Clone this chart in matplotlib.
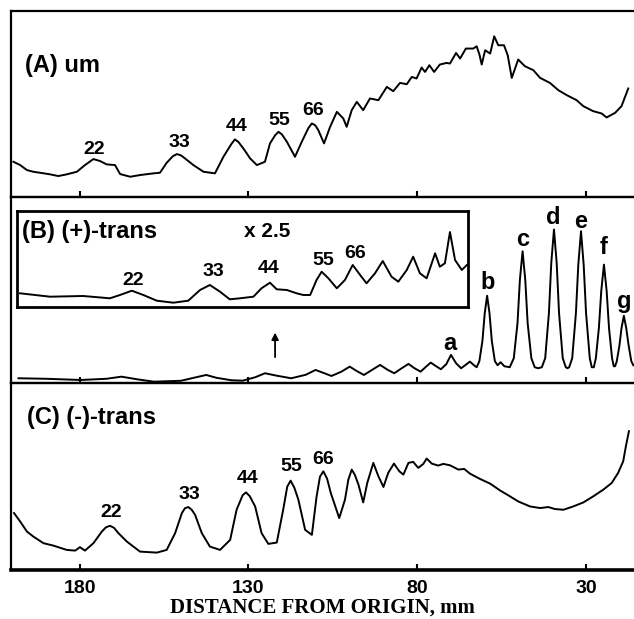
import matplotlib
matplotlib.use("Agg")
import matplotlib.pyplot as plt

plt.rcParams['font.family'] = ['Liberation Sans', 'DejaVu Sans']

# distance from origin (mm) and detector signal (arb. units)
# (A) um
um_mm = [199.6, 197.6, 195.6, 193.7, 191.7, 188.7, 186.3, 183.8, 180.8, 178.4, 175.9, 173.9,
         172.0, 169.5, 168.0, 165.0, 162.1, 158.1, 156.2, 154.2, 152.4, 151.2, 150.0, 148.8,
         146.3, 143.3, 139.9, 137.4, 135.0, 134.0, 133.0, 131.5, 129.5, 127.5, 125.1, 123.6,
         122.1, 121.1, 120.1, 118.6, 116.2, 114.2, 112.2, 111.2, 110.2, 109.3, 107.6, 105.8,
         103.8, 101.9, 100.9, 99.4, 97.9, 96.0, 94.0, 91.5,
         89.0, 87.1, 85.1, 83.1, 81.6, 80.2, 78.7, 77.7, 76.4, 75.0, 73.3, 71.3,
         70.3, 68.5, 67.3, 65.6, 63.4, 62.4, 61.6, 60.9, 59.9, 58.4, 57.2, 56.0,
         54.3, 53.2, 52.0, 50.1, 48.1, 45.6, 43.6, 40.7, 38.2, 35.7, 32.8, 30.8,
         27.9, 25.4, 23.9, 21.4, 19.5, 17.5]
um_sig = [35, 31.7, 26.7, 25, 24, 22.4, 20.7, 22.4, 25, 31.7, 37.7, 35.7,
          32.4, 31.7, 22.7, 20, 21.7, 23.4, 24, 34, 40.5, 42.7, 41.5, 38.4,
          31.7, 25, 23.4, 40, 53, 57.4, 55, 48.4, 38.4, 31.7, 35, 53.4,
          61.5, 65, 62.5, 55, 40, 55, 69, 73.4, 71.5, 66.7, 53.4, 70,
          85, 78.4, 70, 86.7, 95, 86.7, 98.4, 96.7,
          110, 105.7, 114, 112.7, 120, 118.4, 129.4, 125, 131.7, 125, 132.4, 134,
          133.4, 144, 138.4, 148.4, 148.4, 150.7, 142.7, 132.4, 146.7, 143.4, 160.7, 151.7,
          151.7, 141.7, 119, 137.4, 130.7, 126.7, 119, 114, 106.7, 101.7, 96.7, 90.7,
          85.7, 83.4, 79.4, 84, 90.7, 108.4]
um_lab = ['22', '33', '44', '55', '66']
um_lab_mm = [175.6, 150.5, 133.5, 120.8, 110.8]
um_lab_y = [47.4, 54.4, 70, 76.7, 86.7]

# (B) (+)-trans, full scale
plus_mm = [198.1, 190, 179.6, 172, 167.6, 163, 158.0, 150, 145.5, 142.5, 139.5, 135,
           131.7, 128, 125.1, 121.5, 117.3, 113, 110.1, 107.5, 105.4, 102.5, 100.0, 97.8,
           95.8, 93.3, 91.0, 88.8, 86.8, 84.6, 82.6, 80.8, 79.0, 77.4, 76.0, 74.4,
           73.0, 71.4, 70.0, 68.5, 67.0, 65.6, 64.4, 63.2, 62.4,
           61.6, 60.7, 60.0, 59.3, 58.6, 57.9, 57.0, 56.2, 55.3, 54.2, 52.6,
           51.4, 50.3, 49.6, 48.8, 48.0, 47.3, 46.2, 45.2, 44.2, 43.1,
           42.1, 41.0, 40.3, 39.5, 38.7, 38.0, 36.9, 36.0, 35.5, 35.0,
           34.1, 33.0, 32.3, 31.5, 30.7, 30.0, 28.9, 28.3, 27.7,
           27.1, 26.2, 25.5, 24.7, 23.9, 23.2, 22.3, 21.8, 21.4,
           20.9, 20.1, 19.5, 18.8, 18.1, 17.4, 16.6, 16.0]
plus_sig = [5, 4.5, 3.3, 4.5, 6.6, 4, 1.6, 2.5, 6, 8.3, 5.5, 3,
            2.6, 6, 10, 7.5, 5, 8.5, 13.3, 10, 7.3, 11.5, 16.6, 12,
            8.3, 13.5, 18.3, 13.5, 10, 15, 19.3, 15, 11.6, 16.5, 20.6, 17,
            14, 19, 28.3, 20, 15, 18.5, 21.6, 18, 16,
            22, 42, 70, 87.3, 70, 42, 22, 18, 21, 17, 16,
            25, 60, 103, 131.6, 103, 60, 25, 16, 15, 16,
            25, 70, 120, 153.3, 120, 70, 25, 16, 15, 16,
            25, 70, 118, 151.6, 118, 70, 25, 16, 16,
            25, 55, 92, 118.3, 92, 55, 25, 17, 17,
            22, 38, 55, 67.3, 55, 38, 22, 18]
peak_lab = ['a', 'b', 'c', 'd', 'e', 'f', 'g']
peak_lab_mm = [70.3, 59.0, 48.8, 39.7, 31.5, 24.7, 18.8]
peak_lab_y = [40, 100.6, 143.3, 165, 161.6, 135, 81.6]

# (B) inset, x 2.5
zoom_mm = [197.6, 188.7, 178.9, 171.0, 168.0, 164.5, 161.1, 157.1, 152.2, 147.8, 144.3, 141.4,
           138.4, 135.5, 132.5, 128.5, 126.1, 123.6, 121.6, 118.6, 115.7, 113.7, 111.7, 109.8,
           108.3, 106.3, 103.8, 101.4, 99.1, 96.9, 95.0, 92.5, 90.2, 87.6, 85.6, 83.1,
           81.2, 79.2, 77.2, 75.7, 74.7, 73.3, 71.8, 70.3, 68.8, 66.8, 65.3]
zoom_sig = [13.7, 10.3, 11, 8.7, 12, 16.3, 12, 6.3, 4.3, 6.3, 17, 22,
            15.3, 7.7, 8.7, 10.3, 18.7, 24.3, 17.7, 17, 13.7, 12, 12, 27,
            35.3, 28.7, 18.7, 27, 42, 32, 23.7, 33.7, 46, 30.3, 25.3, 37,
            50.3, 33.7, 28.7, 43.7, 53.7, 40.3, 43.7, 75, 47, 37, 42]
zoom_lab = ['22', '33', '44', '55', '66']
zoom_lab_mm = [164.1, 140.4, 124.1, 107.8, 98.4]
zoom_lab_y = [27, 35.3, 38.7, 47, 53.7]

# (C) (-)-trans
minus_mm = [199.4, 197.6, 195.6, 193.7, 190.7, 187.8, 183.8, 181.3, 179.9, 178.4, 175.9, 173.4,
            172.2, 171.0, 169.8, 168.5, 166.0, 162.1, 157.1, 154.2, 151.7, 149.7, 148.8, 147.8,
            146.8, 145.8, 143.8, 141.4, 138.4, 135.4, 133.5, 131.7, 130.7, 129.6, 128.0, 126.1,
            124.1, 121.6, 119.7, 118.5, 117.5, 116.4, 115.2, 113.2, 111.2, 109.8, 108.8, 107.8,
            106.7, 105.6, 103.1, 101.4, 100.4, 99.4, 98.5, 97.4, 96.0, 94.8, 93.0, 91.5,
            90.0, 88.6, 86.9, 85.3, 84.1, 82.6, 81.2, 79.7, 78.2, 77.2, 75.7, 73.8,
            72.3, 70.3, 67.8, 66.1, 64.4, 61.4, 58.4, 55.5, 52.5, 50.1, 46.6, 43.6,
            41.2, 39.2, 36.7, 33.8, 30.8, 27.9, 24.9, 22.4, 20.5, 19.0, 18.2, 17.3]
minus_sig = [56.7, 48.3, 38.3, 33.3, 26.7, 24.3, 20, 19.3, 22.7, 19.3, 26.7, 38.3,
             42.5, 44, 42, 36.7, 28.3, 18.3, 17.3, 20, 36.7, 56.7, 61.5, 62.7,
             60, 55, 36.7, 23.3, 20, 30, 60, 74.5, 77.3, 73.5, 63.3, 36.7,
             26, 27.3, 60, 83, 89, 82, 70, 40, 35, 73.3, 93, 98.3,
             91, 76.7, 51.7, 70, 90, 100, 95, 85, 67.3, 86.7, 106.7, 93.3,
             82.7, 96.7, 106, 98.3, 95, 106.7, 107.7, 101.7, 105.7, 111, 106, 104,
             105.7, 104.3, 100, 100.7, 96, 90.7, 86, 79.3, 73.3, 68.3, 63.3, 61.7,
             62.7, 60.7, 60, 63.3, 67.3, 73.3, 80, 86.7, 96.7, 108.3, 123.3, 138.3]
minus_lab = ['22', '33', '44', '55', '66']
minus_lab_mm = [170.7, 147.6, 130.3, 117.2, 107.8]
minus_lab_y = [57.7, 75, 91, 102.7, 110]

ticks = [180, 130, 80, 30]
xmin, xmax = 200.3, 15.8

fig = plt.figure(figsize=(6.34, 6.19), dpi=100)
left, width = 0.0174, 0.9826
axA = fig.add_axes([left, 0.6822, width, 0.3000])
axB = fig.add_axes([left, 0.3808, width, 0.3014])
axC = fig.add_axes([left, 0.0792, width, 0.3016])

for ax in (axA, axB, axC):
    ax.set_xlim(xmin, xmax)
    ax.set_ylim(0, 186)
    ax.set_yticks([])
    ax.set_xticks(ticks)
    ax.tick_params(axis='x', direction='in', length=4, width=1.5, labelbottom=False)
    ax.spines['right'].set_visible(False)
    for s in ('left', 'top', 'bottom'):
        ax.spines[s].set_linewidth(1.6)
    ax.patch.set_alpha(0)

lw = 1.4
num_kw = dict(fontsize=14, fontweight='bold', ha='center', va='center')
big_kw = dict(fontsize=17, fontweight='bold', va='center')

# (A)
axA.plot(um_mm, um_sig, color='black', lw=lw)
axA.text(196.1, 131.7, '(A) um', ha='left', **big_kw)
for t, x, y in zip(um_lab, um_lab_mm, um_lab_y):
    axA.text(x, y, t, **num_kw)

# (B)
axB.plot(plus_mm, plus_sig, color='black', lw=lw)
for t, x, y in zip(peak_lab, peak_lab_mm, peak_lab_y):
    axB.text(x, y, t, ha='center', **big_kw)
axB.annotate('', xy=(122.1, 53.3), xytext=(122.1, 23.3),
             arrowprops=dict(arrowstyle='-|>', color='black', lw=1.3, mutation_scale=10))
axB.text(197.1, 151.6, '(B) (+)-trans', ha='left', **big_kw)
axB.text(124.5, 151.6, 'x 2.5', ha='center', fontsize=15, fontweight='bold', va='center')

axI = fig.add_axes([17 / 634, 1 - 307 / 619, 451 / 634, 96 / 619])
axI.set_xlim(198.5, 64.96)
axI.set_ylim(0, 96)
axI.set_xticks([])
axI.set_yticks([])
for s in axI.spines.values():
    s.set_linewidth(2)
axI.patch.set_alpha(0)
axI.plot(zoom_mm, zoom_sig, color='black', lw=lw)
for t, x, y in zip(zoom_lab, zoom_lab_mm, zoom_lab_y):
    axI.text(x, y, t, **num_kw)

# (C)
axC.plot(minus_mm, minus_sig, color='black', lw=lw)
axC.text(195.6, 151.7, '(C) (-)-trans', ha='left', **big_kw)
for t, x, y in zip(minus_lab, minus_lab_mm, minus_lab_y):
    axC.text(x, y, t, **num_kw)
axC.spines['bottom'].set_linewidth(2.6)
axC.tick_params(axis='x', labelbottom=True, pad=7, labelsize=14)
for lab in axC.get_xticklabels():
    lab.set_fontweight('bold')
axC.set_xlabel('DISTANCE FROM ORIGIN, mm', fontsize=15, fontweight='bold',
               family='Liberation Serif', labelpad=1)

fig.savefig('out.png', dpi=100)
